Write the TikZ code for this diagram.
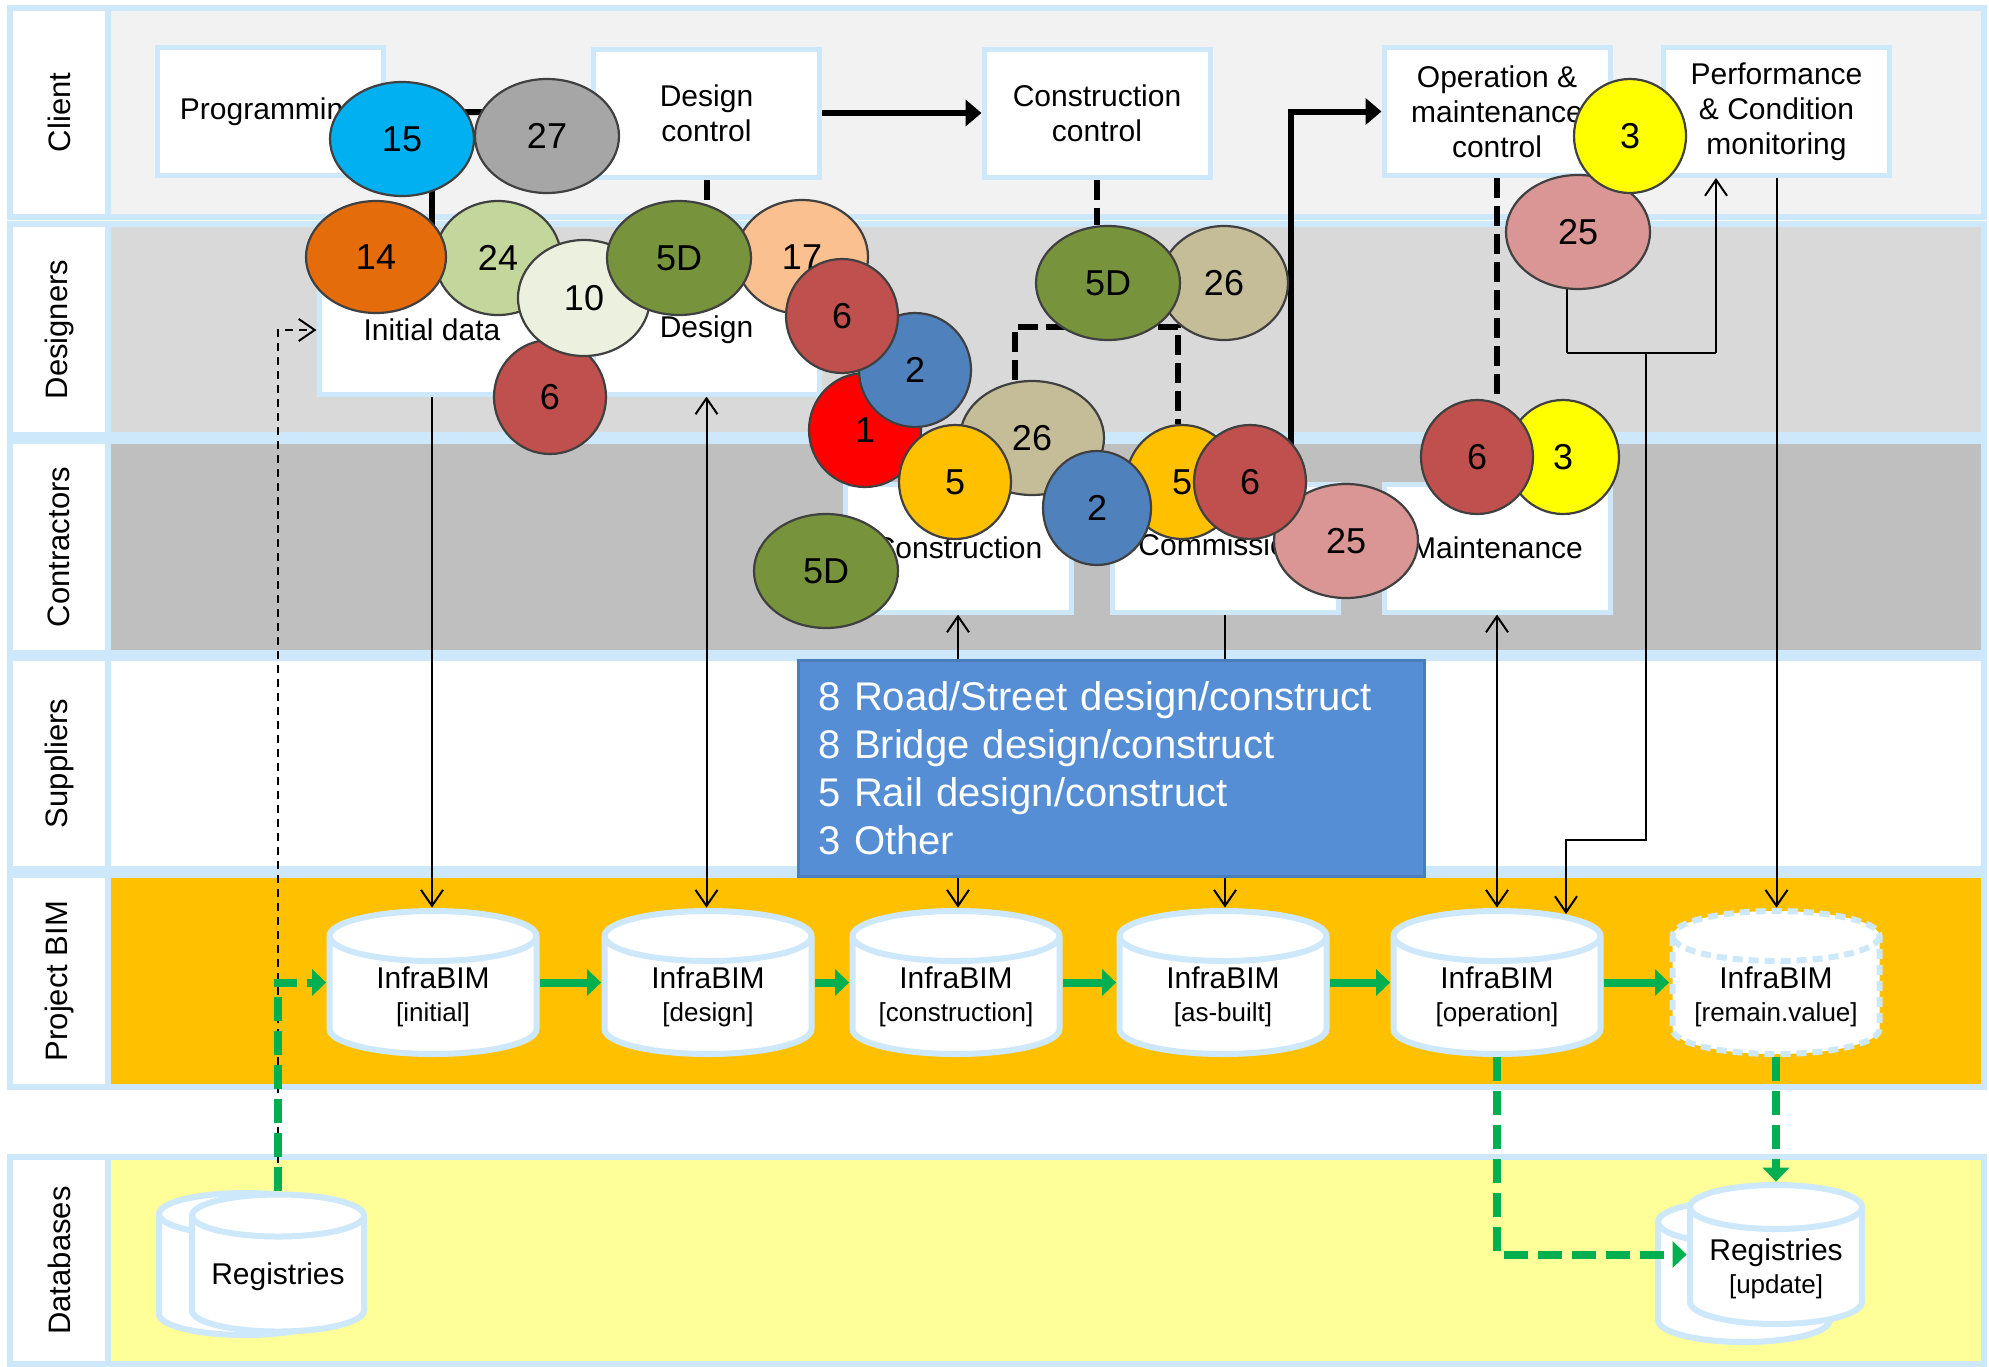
\documentclass[tikz,border=0pt]{standalone}
\usepackage{fontspec}
\setmainfont{Liberation Sans}
\usetikzlibrary{arrows.meta,shapes.geometric}
\definecolor{lbl}{RGB}{204,232,250}
\definecolor{clientc}{HTML}{F2F2F2}
\definecolor{desc}{HTML}{D9D9D9}
\definecolor{conc}{HTML}{BFBFBF}
\definecolor{bimc}{HTML}{FFC000}
\definecolor{dbc}{HTML}{FFFF99}
\definecolor{grc}{HTML}{00B050}
\definecolor{supc}{HTML}{558ED5}
\definecolor{supb}{HTML}{4A7EBB}
\definecolor{c15}{HTML}{00B0F0}
\definecolor{c27}{HTML}{A6A6A6}
\definecolor{c14}{HTML}{E46C0A}
\definecolor{c24}{HTML}{C3D69B}
\definecolor{c10}{HTML}{EBF1DE}
\definecolor{cred}{HTML}{C0504D}
\definecolor{c5D}{HTML}{77933C}
\definecolor{c17}{HTML}{FAC090}
\definecolor{cblue}{HTML}{4F81BD}
\definecolor{cr1}{HTML}{FF0000}
\definecolor{c26}{HTML}{C4BD97}
\definecolor{c5}{HTML}{FFC000}
\definecolor{c25}{HTML}{D99694}
\definecolor{c3}{HTML}{FFFF00}
\pgfdeclarelayer{lanes}
\pgfdeclarelayer{conn}
\pgfsetlayers{lanes,conn,main}
\tikzset{
  barb/.tip={Straight Barb[length=8pt,width=11pt,line width=1pt]},
  tri/.tip={Triangle[length=8pt,width=13pt]},
  gtri/.tip={Triangle[length=7pt,width=13pt]},
  lanebd/.style={draw=lbl,line width=2.8pt},
  lanelab/.style={rotate=90,font=\fontsize{15.5}{18}\selectfont},
  pbox/.style={rectangle,draw=lbl,fill=white,line width=2.5pt,minimum width=113pt,minimum height=64pt,inner sep=0pt,align=center,font=\fontsize{15}{17.5}\selectfont},
  bub/.style={ellipse,draw=black!75,line width=1.1pt,inner sep=0pt,font=\fontsize{18}{18}\selectfont},
  wideb/.style={minimum width=72pt,minimum height=57pt},
  roundb/.style={minimum width=56pt,minimum height=57pt},
  cyl/.style={draw=lbl,fill=white,line width=3pt},
  cyltext/.style={align=center,inner sep=0pt,font=\fontsize{15}{16.5}\selectfont},
  supbox/.style={rectangle,fill=supc,draw=supb,line width=1.5pt,minimum height=108pt,text width=293pt,align=left,inner xsep=10pt,inner ysep=0pt,text=white,font=\fontsize{20}{24}\selectfont},
  thk/.style={line width=3pt},
  thkd/.style={line width=3pt,dash pattern=on 10pt off 4pt},
  thn/.style={line width=1pt},
  thnd/.style={line width=0.7pt,dash pattern=on 4pt off 3pt},
  grn/.style={draw=grc,line width=4pt,-gtri},
  grnd/.style={grn,dash pattern=on 12pt off 5pt}
}
\newcommand{\dbshape}[6]{%
  \path[cyl,#6] (#1-#3,#2-#4+#5) -- (#1-#3,#2+#4-#5)
    arc[start angle=180,end angle=360,x radius=#3*0.5pt,y radius=#5*0.5pt]
    -- (#1+#3,#2-#4+#5)
    arc[start angle=0,end angle=180,x radius=#3*0.5pt,y radius=#5*0.5pt] -- cycle;
  \path[cyl,#6,fill=none] (#1+#3,#2-#4+#5)
    arc[start angle=0,end angle=-180,x radius=#3*0.5pt,y radius=#5*0.5pt];}
\newcommand{\dbcyl}[7]{%
  \dbshape{#2}{#3}{#4}{#5}{#6}{#7}
  \pgfmathsetmacro\cylw{(2*#4+6)*0.5}\pgfmathsetmacro\cylh{(2*#5+6)*0.5}
  \node[rectangle,inner sep=0pt,minimum width=\cylw pt,minimum height=\cylh pt] (#1) at (#2,#3) {};}
\begin{document}
\begin{tikzpicture}[x=0.5pt,y=-0.5pt]
\useasboundingbox (0,0) rectangle (1989,1366);
\begin{pgfonlayer}{lanes}
\fill[white] (0,0) rectangle (1989,1366);
\foreach \t/\b/\col/\nm/\lab in {8/217/clientc/lc/Client,224/435/desc/ld/Designers,441/653/conc/lk/Contractors,658/869/white/ls/Suppliers,875/1087/bimc/lp/Project BIM,1157/1364/dbc/lb/Databases}{
  \path[lanebd,fill=\col] (108,\t) rectangle (1984,\b);
  \path[lanebd,fill=white] (10,\t) rectangle (108,\b);
  \node[lanelab] (\nm) at (59,{(\t+\b)/2}) {\lab};
}
\end{pgfonlayer}

% process boxes
\node[pbox] (prog) at (270,111.5) {Programming};
\node[pbox] (dctl) at (706.5,113) {Design\\control};
\node[pbox] (cctl) at (1097,113) {Construction\\control};
\node[pbox] (octl) at (1497,111.5) {Operation \&\\maintenance\\control};
\node[pbox] (pctl) at (1776.5,111.5) {Performance\\\& Condition\\monitoring};
\node[pbox] (init) at (432,330) {Initial data};
\node[pbox] (design) at (706.5,330) {Design};
\node[pbox] (constr) at (958,548) {Construction};
\node[pbox] (comm) at (1225,548) {\hspace*{8pt}Commissioning\hspace*{-8pt}};
\node[pbox] (maint) at (1497,548) {Maintenance};

% suppliers box
\node[supbox] (sup) at (1111.5,768) {8 Road/Street design/construct\\8 Bridge design/construct\\5 Rail design/construct\\3 Other};

% cylinders
\dbcyl{cinit}{433}{982.5}{103.5}{71.5}{25}{}
\dbcyl{cdesign}{708}{982.5}{103.5}{71.5}{25}{}
\dbcyl{ccons}{956}{982.5}{103.5}{71.5}{25}{}
\dbcyl{casb}{1223}{982.5}{103.5}{71.5}{25}{}
\dbcyl{coper}{1497}{982.5}{103.5}{71.5}{25}{}
\dbcyl{crem}{1776}{982.5}{103.5}{71.5}{25}{dash pattern=on 5pt off 3pt}
\node[cyltext] (cinit-t) at (433,997) {InfraBIM\\{\fontsize{13}{16.5}\selectfont [initial]}};
\node[cyltext] (cdesign-t) at (708,997) {InfraBIM\\{\fontsize{13}{16.5}\selectfont [design]}};
\node[cyltext] (ccons-t) at (956,997) {InfraBIM\\{\fontsize{13}{16.5}\selectfont [construction]}};
\node[cyltext] (casb-t) at (1223,997) {InfraBIM\\{\fontsize{13}{16.5}\selectfont [as-built]}};
\node[cyltext] (coper-t) at (1497,997) {InfraBIM\\{\fontsize{13}{16.5}\selectfont [operation]}};
\node[cyltext] (crem-t) at (1776,997) {InfraBIM\\{\fontsize{13}{16.5}\selectfont [remain.value]}};

% registries
\dbshape{245}{1264}{86}{71}{21}{}
\dbcyl{regL}{278}{1263}{86}{68.5}{21}{}
\node[cyltext] (regL-t) at (278,1277) {Registries};
\dbshape{1744}{1271}{86}{71}{22}{}
\dbcyl{regR}{1776}{1254.5}{86}{69.5}{22}{}
\node[cyltext] (regR-t) at (1776,1269) {Registries\\{\fontsize{13}{16.5}\selectfont [update]}};

% bubbles
\node[bub,wideb,fill=c27] (b27) at (547,136) {27};
\node[bub,wideb,fill=c15] (b15) at (402,139) {15};
\node[bub,fill=c24,minimum width=63pt,minimum height=57pt] (b24) at (498,258) {24};
\node[bub,fill=c14,minimum width=70pt,minimum height=56pt] (b14) at (376,257) {14};
\node[bub,roundb,fill=cred] (b6i) at (550,397) {6};
\node[bub,fill=c10,minimum width=66pt,minimum height=58pt] (b10) at (584,298) {10};
\node[bub,fill=c17,minimum width=66pt,minimum height=57pt] (b17) at (802,257) {17};
\node[bub,wideb,fill=c5D] (b5Dd) at (679,258) {5D};
\node[bub,roundb,fill=cr1] (b1) at (865,430) {1};
\node[bub,roundb,fill=cblue] (b2d) at (915,370) {2};
\node[bub,roundb,fill=cred] (b6d) at (842,316) {6};
\node[bub,wideb,fill=c26] (b26c) at (1032,438) {26};
\node[bub,roundb,fill=c5] (b5c) at (955,482) {5};
\node[bub,roundb,fill=c5] (b5m) at (1182,482) {5};
\node[bub,fill=cblue,minimum width=54pt,minimum height=57pt] (b2c) at (1097,508) {2};
\node[bub,wideb,fill=c25] (b25m) at (1346,541) {25};
\node[bub,roundb,fill=cred] (b6m) at (1250,482) {6};
\node[bub,wideb,fill=c5D] (b5Dl) at (826,571) {5D};
\node[bub,fill=c26,minimum width=64pt,minimum height=57pt] (b26cc) at (1224,283) {26};
\node[bub,wideb,fill=c5D] (b5Dcc) at (1108,283) {5D};
\node[bub,wideb,fill=c25] (b25t) at (1578,232) {25};
\node[bub,roundb,fill=c3] (b3t) at (1630,136) {3};
\node[bub,roundb,fill=c3] (b3mt) at (1563,457) {3};
\node[bub,roundb,fill=cred] (b6mt) at (1477,457) {6};

% helper coordinates
\coordinate (cj) at (1291,450);
\coordinate (brL) at (1015,327);
\coordinate (brR) at (1178,327);
\coordinate (k1) at (1646,353);
\coordinate (k2) at (1566,840);
\coordinate (k3) at (1566,914);
\coordinate (kL) at (1567,353);
\coordinate (kR) at (1716,353);

\begin{pgfonlayer}{conn}
% thick solid
\draw[thk,-tri] (prog.east) -- (dctl.west);
\draw[thk] (prog.east -| init.north) -- (init.north);
\draw[thk,-tri] (dctl.east) -- (cctl.west);
\draw[thk,-tri] (cj) |- (octl.west);
% thick dashed
\draw[thkd] (dctl.south) -- (dctl.south |- b5Dd.north);
\draw[thkd] (cctl.south) -- (cctl.south |- b5Dcc.north);
\draw[thkd] (brL |- b26c.north) -- (brL) -- (brR) -- (brR |- b5m.north);
\draw[thkd] (octl.south) -- (octl.south |- b6mt.north);
% thin
\draw[thn,-barb] (init.south) -- (init.south |- cinit.north);
\draw[thn,barb-barb] (design.south) -- (design.south |- cdesign.north);
\draw[thn,barb-barb] (constr.south) -- (constr.south |- ccons.north);
\draw[thn,-barb] (comm.south) -- (comm.south |- casb.north);
\draw[thn,barb-barb] (maint.south) -- (maint.south |- coper.north);
\draw[thn,-barb] (pctl.south) -- (pctl.south |- crem.north);
\draw[thn,-barb] (k1) |- (k2) -- (k3);
\draw[thn] (kL) -- (kR);
\draw[thn,-barb] (kR) -- (kR |- pctl.south);
\draw[thn,-barb] (kL) -- (kL |- octl.south);
\draw[thnd,-barb] (regL.north) |- (init.west);
% green
\draw[grn] (cinit.east) -- (cdesign.west);
\draw[grn] (cdesign.east) -- (ccons.west);
\draw[grn] (ccons.east) -- (casb.west);
\draw[grn] (casb.east) -- (coper.west);
\draw[grn] (coper.east) -- (crem.west);
\draw[grnd] (regL.north) |- (cinit.west);
\draw[grnd] (crem.south) -- (regR.north);
\end{pgfonlayer}
\draw[grnd] (coper.south) |- (regR.west);
\end{tikzpicture}
\end{document}
